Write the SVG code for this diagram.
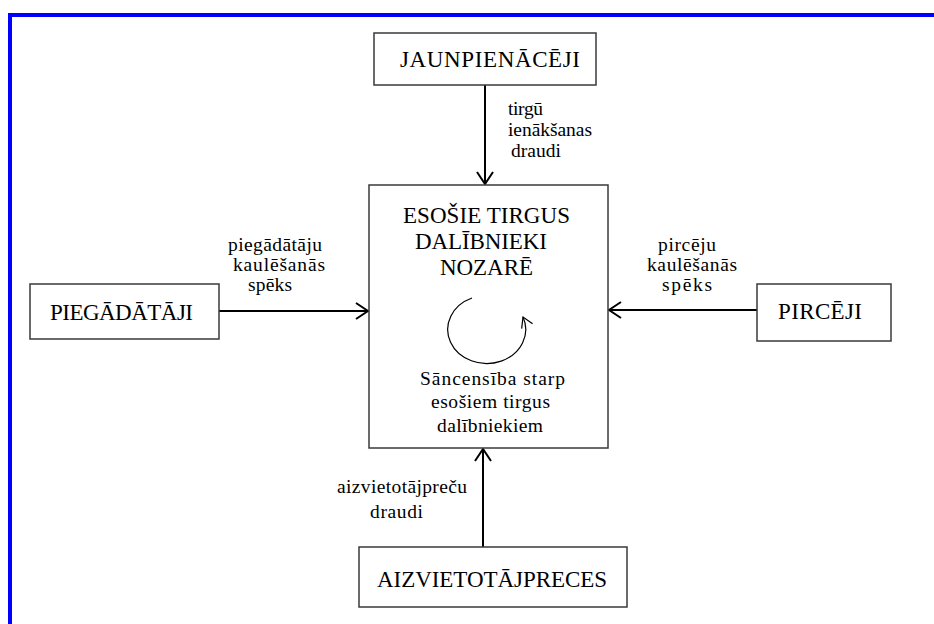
<svg xmlns="http://www.w3.org/2000/svg" width="934" height="624" viewBox="0 0 934 624">
<style>
.box{fill:#fff;stroke:#3a3a3a;stroke-width:1.5}
.big{font-size:23px;fill:#000}
.lbl{font-size:19.5px;fill:#000}
.conn{stroke:#000;stroke-width:2;fill:none;marker-end:url(#ah)}
</style>
<defs>
<marker id="ah" viewBox="0 0 14 18" refX="13" refY="9" markerWidth="14" markerHeight="18" markerUnits="userSpaceOnUse" orient="auto">
<path d="M1,1 L13,9 L1,17" fill="none" stroke="#000" stroke-width="2"/>
</marker>
<marker id="ah2" viewBox="0 0 12 14" refX="11" refY="7" markerWidth="12" markerHeight="14" markerUnits="userSpaceOnUse" orient="auto">
<path d="M1,1 L11,7 L1,13" fill="none" stroke="#000" stroke-width="1.2"/>
</marker>
</defs>
<rect width="934" height="624" fill="#fff"/>
<path d="M10,624 L10,15 L934,15" fill="none" stroke="#0000ff" stroke-width="4"/>

<g font-family="Liberation Serif, Times New Roman, Tinos, Noto Serif, DejaVu Serif, FreeSerif, serif">
<g id="connectors">
<line class="conn" x1="485" y1="85" x2="485" y2="184"/>
<line class="conn" x1="219" y1="311" x2="368" y2="311"/>
<line class="conn" x1="757" y1="310" x2="609" y2="310"/>
<line class="conn" x1="483" y1="547" x2="483" y2="449"/>
<text class="lbl" x="508" y="115" textLength="35">tirgū</text>
<text class="lbl" x="508" y="136" textLength="84">ienākšanas</text>
<text class="lbl" x="511" y="157" textLength="50">draudi</text>
<text class="lbl" x="228" y="251" textLength="94">piegādātāju</text>
<text class="lbl" x="233" y="271" textLength="92">kaulēšanās</text>
<text class="lbl" x="248" y="291" textLength="44">spēks</text>
<text class="lbl" x="658" y="251" textLength="58">pircēju</text>
<text class="lbl" x="647" y="271" textLength="90">kaulēšanās</text>
<text class="lbl" x="662" y="291" textLength="50">spēks</text>
<text class="lbl" x="337" y="493" textLength="130">aizvietotājpreču</text>
<text class="lbl" x="370" y="518" textLength="53">draudi</text>
</g>

<g id="jaunpienaceji">
<rect class="box" x="374" y="33" width="222" height="52"/>
<text class="big" x="400" y="67" textLength="180">JAUNPIENĀCĒJI</text>
</g>

<g id="esosie">
<rect class="box" x="369" y="185" width="239" height="263"/>
<text class="big" x="403" y="223" textLength="167">ESOŠIE TIRGUS</text>
<text class="big" x="415" y="249" textLength="132">DALĪBNIEKI</text>
<text class="big" x="440" y="275" textLength="93">NOZARĒ</text>
<path d="M472,298 A39,34 0 1 0 523,317" fill="none" stroke="#000" stroke-width="1.2" marker-end="url(#ah2)"/>
<text class="lbl" x="420" y="385" textLength="145">Sāncensība starp</text>
<text class="lbl" x="431" y="408" textLength="119">esošiem tirgus</text>
<text class="lbl" x="437" y="432" textLength="106">dalībniekiem</text>
</g>

<g id="piegadataji">
<rect class="box" x="30" y="284" width="189" height="55"/>
<text class="big" x="50" y="320" textLength="143">PIEGĀDĀTĀJI</text>
</g>

<g id="pirceji">
<rect class="box" x="757" y="284" width="134" height="57"/>
<text class="big" x="778" y="319" textLength="84">PIRCĒJI</text>
</g>

<g id="aizvietotajpreces">
<rect class="box" x="359" y="547" width="268" height="60"/>
<text class="big" x="377" y="587" textLength="230">AIZVIETOTĀJPRECES</text>
</g>
</g>
</svg>
